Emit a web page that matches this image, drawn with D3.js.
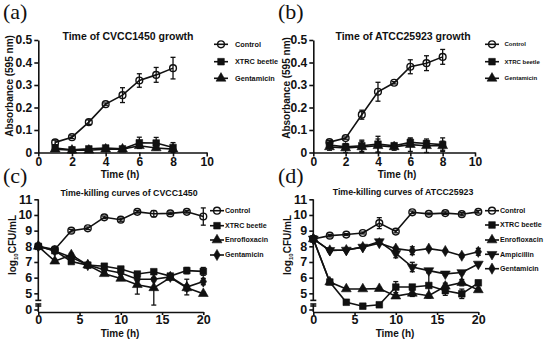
<!DOCTYPE html>
<html>
<head>
<meta charset="utf-8">
<script src="https://cdn.jsdelivr.net/npm/d3@7"></script>
<style>
  body { margin: 0; background: #fff; }
  text { font-family: "Liberation Sans", Arial, sans-serif; font-weight: bold; fill: #111; }
  .panel-tag { font-family: "Liberation Serif", "DejaVu Serif", serif; font-weight: normal; font-size: 22px; }
</style>
</head>
<body>
<svg id="fig" width="550" height="343"></svg>
<script>
// ---- data ----
const growthHours = [1, 2, 3, 4, 5, 6, 7, 8];
const killHours = [0, 2, 4, 6, 8, 10, 12, 14, 16, 18, 20];

// (a) CVCC1450 growth, absorbance 595 nm
const aControl   = [0.045, 0.068, 0.135, 0.215, 0.255, 0.32, 0.345, 0.375];
const aControlSd = [0.01, 0.006, 0.01, 0.005, 0.033, 0.03, 0.033, 0.048];
const aXtrc      = [0.02, 0.012, 0.016, 0.02, 0.016, 0.043, 0.042, 0.022];
const aXtrcSd    = [0.008, 0.005, 0.005, 0.006, 0.005, 0.025, 0.025, 0.022];
const aGenta     = [0.015, 0.01, 0.01, 0.015, 0.015, 0.03, 0.02, 0.015];
const aGentaSd   = [0.005, 0.004, 0.004, 0.005, 0.005, 0.01, 0.008, 0.01];

// (b) ATCC25923 growth
const bControl   = [0.046, 0.064, 0.168, 0.27, 0.31, 0.381, 0.397, 0.425];
const bControlSd = [0.008, 0.005, 0.02, 0.042, 0.005, 0.031, 0.033, 0.033];
const bXtrc      = [0.033, 0.025, 0.03, 0.037, 0.03, 0.045, 0.04, 0.035];
const bXtrcSd    = [0.012, 0.01, 0.025, 0.035, 0.01, 0.015, 0.012, 0.03];
const bGenta     = [0.025, 0.02, 0.025, 0.03, 0.025, 0.035, 0.03, 0.03];
const bGentaSd   = [0.015, 0.02, 0.025, 0.03, 0.015, 0.03, 0.03, 0.02];

// (c) time-killing CVCC1450, log10 CFU/mL
const cControl   = [8.0, 7.8, 9.0, 9.15, 9.85, 9.7, 10.2, 10.08, 10.1, 10.2, 9.9];
const cControlSd = [0.05, 0.08, 0.08, 0.08, 0.08, 0.1, 0.08, 0.2, 0.08, 0.08, 0.55];
const cXtrc      = [8.0, 7.72, 7.03, 6.8, 6.73, 6.55, 6.23, 6.38, 6.1, 6.45, 6.4];
const cXtrcSd    = [0.05, 0.08, 0.1, 0.08, 0.08, 0.1, 0.1, 0.08, 0.08, 0.2, 0.25];
const cEnro      = [8.0, 7.05, 7.45, 6.8, 6.25, 5.95, 5.55, 5.35, 6.0, 5.35, 4.98];
const cEnroSd    = [0.05, 0.12, 0.1, 0.08, 0.1, 0.1, 0.6, 1.1, 0.08, 0.2, 0.08];
const cGenta     = [8.0, 7.7, 7.3, 6.8, 6.5, 6.3, 5.9, 5.9, 6.05, 5.4, 5.75];
const cGentaSd   = [0.05, 0.08, 0.08, 0.08, 0.1, 0.1, 0.1, 0.1, 0.08, 0.5, 0.2];

// (d) time-killing ATCC25923
const dControl   = [8.47, 8.68, 8.75, 8.85, 9.48, 8.94, 10.17, 10.07, 10.12, 10.05, 10.2];
const dControlSd = [0.05, 0.08, 0.06, 0.06, 0.35, 0.08, 0.08, 0.06, 0.08, 0.1, 0.08];
const dXtrc      = [8.47, 5.72, 4.43, 4.18, 4.27, 5.4, 5.4, 5.5, 5.17, 4.97, 5.67];
const dXtrcSd    = [0.05, 0.08, 0.08, 0.06, 0.08, 0.35, 0.12, 0.8, 0.3, 0.3, 0.15];
const dEnro      = [8.47, 5.72, 5.28, 5.28, 5.3, 4.82, 5.0, 4.85, 5.45, 5.68, 5.22];
const dEnroSd    = [0.05, 0.08, 0.08, 0.06, 0.06, 0.1, 0.2, 0.1, 0.2, 0.2, 0.1];
const dAmpi      = [8.47, 7.74, 7.76, 7.95, 8.3, 7.55, 6.68, 6.45, 6.24, 6.33, 6.87];
const dAmpiSd    = [0.05, 0.08, 0.08, 0.08, 0.1, 0.28, 0.3, 0.12, 0.1, 0.1, 0.1];
const dGenta     = [8.47, 7.74, 7.76, 7.95, 8.2, 7.85, 7.72, 7.85, 7.7, 7.4, 7.65];
const dGentaSd   = [0.05, 0.08, 0.08, 0.08, 0.08, 0.1, 0.25, 0.08, 0.08, 0.1, 0.22];

const growthYTicks = [0, 0.1, 0.2, 0.3, 0.4, 0.5];
const growthXTicks = [0, 2, 4, 6, 8, 10];
const killYTicks = [0, 5, 6, 7, 8, 9, 10, 11];
const killXTicks = [0, 5, 10, 15, 20];

// ---- drawing ----
const svg = d3.select("#fig");

const symbolTypes = {
  circle: d3.symbolCircle,
  square: d3.symbolSquare,
  up: d3.symbolTriangle,
  down: d3.symbolTriangle,
  diamond: d3.symbolDiamond
};
const symbolSizes = { circle: 36, square: 44, up: 42, down: 42, diamond: 36 };

function marker(sel, shape) {
  sel.append("path")
    .attr("d", d3.symbol().type(symbolTypes[shape]).size(symbolSizes[shape]))
    .attr("transform", d => `translate(${d[0]},${d[1]})` + (shape == "down" ? " rotate(180)" : ""))
    .attr("fill", shape == "circle" ? "none" : "#111")
    .attr("stroke", "#111")
    .attr("stroke-width", shape == "circle" ? 1.4 : 0.6);
}

function drawPanel(p) {
  const g = svg.append("g");
  const x = p.x, y = p.y;

  // tag and title
  svg.append("text").attr("class", "panel-tag").attr("x", p.tag[0]).attr("y", p.tag[1]).text(p.tag[2]);
  g.append("text").attr("x", p.title[0]).attr("y", p.title[1]).attr("text-anchor", "middle")
    .attr("font-size", p.titleSize).text(p.title[2]);

  // x axis
  const xa = g.append("g").attr("transform", `translate(0,${p.xAxisY})`)
    .call(d3.axisBottom(x).tickValues(p.xTicks).tickSize(p.xTick[0]).tickPadding(p.xTick[1]).tickSizeOuter(0));
  xa.selectAll("text").attr("font-size", p.tickSize).attr("font-family", null);

  // y axis
  const ya = g.append("g").attr("transform", `translate(${x.range()[0]},0)`)
    .call(d3.axisLeft(y).tickValues(p.yTicks).tickSize(4).tickPadding(2).tickSizeOuter(0)
      .tickFormat(d => d == 0 ? "0" : String(d)));
  ya.selectAll("text").attr("font-size", p.tickSize).attr("font-family", null);
  g.selectAll(".domain, .tick line").attr("stroke", "#111").attr("stroke-width", 1.6);

  if (p.yBreak) {
    // broken axis: upper segment and a short lower stub
    ya.select(".domain").remove();
    const x0 = x.range()[0];
    const upTop = y(11), upBot = y(p.yBreak), loTop = p.lowStub, loBot = p.xAxisY;
    g.append("line").attr("x1", x0).attr("x2", x0).attr("y1", upTop).attr("y2", upBot);
    g.append("line").attr("x1", x0).attr("x2", x0).attr("y1", loTop).attr("y2", loBot);
    g.append("line").attr("x1", x0 - 3).attr("x2", x0 + 3).attr("y1", upBot).attr("y2", upBot);
    g.append("line").attr("x1", x0 - 3).attr("x2", x0 + 3).attr("y1", loTop).attr("y2", loTop);
    g.append("line").attr("x1", x0 - 3).attr("x2", x0 + 3).attr("y1", loTop + 2).attr("y2", loTop + 2);
    g.selectAll("line").attr("stroke", "#111").attr("stroke-width", 1.6);
  }

  // axis labels
  g.append("text").attr("x", p.xLabel[0]).attr("y", p.xLabel[1]).attr("text-anchor", "middle")
    .attr("font-size", 10).text("Time (h)");
  const yl = g.append("text").attr("text-anchor", "middle").attr("font-size", p.yLabelSize)
    .attr("transform", `translate(${p.yLabel[0]},${p.yLabel[1]}) rotate(-90)`);
  if (p.yLabel[2] == "log") {
    yl.append("tspan").text("log");
    yl.append("tspan").attr("font-size", 6).attr("dy", 2).text("10");
    yl.append("tspan").attr("dy", -2).text("CFU/mL");
  } else {
    yl.text(p.yLabel[2]);
  }

  const line = d3.line().x(d => x(d[0])).y(d => y(d[1]));

  p.series.forEach(s => {
    const pts = p.hours.map((h, i) => [h, s.values[i], s.sd[i]]);
    g.append("path").datum(pts).attr("d", line)
      .attr("fill", "none").attr("stroke", "#111").attr("stroke-width", 1.6);

    // error bars
    const eb = g.append("g").attr("stroke", "#111").attr("stroke-width", 1.3);
    pts.forEach(d => {
      const cx = x(d[0]), y1 = y(d[1] - d[2]), y2 = y(d[1] + d[2]);
      eb.append("line").attr("x1", cx).attr("x2", cx).attr("y1", y1).attr("y2", y2);
      eb.append("line").attr("x1", cx - 2.5).attr("x2", cx + 2.5).attr("y1", y1).attr("y2", y1);
      eb.append("line").attr("x1", cx - 2.5).attr("x2", cx + 2.5).attr("y1", y2).attr("y2", y2);
    });

    g.append("g").selectAll("path").data(pts.map(d => [x(d[0]), y(d[1])]))
      .enter().call(sel => marker(sel, s.shape));
  });

  // legend
  p.series.forEach((s, i) => {
    const ly = p.legend.y[i];
    g.append("line").attr("x1", p.legend.mx - 7).attr("x2", p.legend.mx + 7)
      .attr("y1", ly).attr("y2", ly).attr("stroke", "#111").attr("stroke-width", 1.6);
    g.append("g").selectAll("path").data([[p.legend.mx, ly]]).enter().call(sel => marker(sel, s.shape));
    g.append("text").attr("x", p.legend.tx).attr("y", ly).attr("dy", "0.35em")
      .attr("font-size", p.legend.size).text(s.name);
  });
}

const growthY = d3.scaleLinear().domain([0, 0.5]).range([152.5, 40]);
// broken log axis: 0 sits just below the 4-5 break
const killY = d3.scaleLinear().domain([0, 4, 11]).range([309.5, 309, 199.3]);

drawPanel({
  x: d3.scaleLinear().domain([0, 10]).range([38.3, 206.7]), y: growthY,
  hours: growthHours, xTicks: growthXTicks, yTicks: growthYTicks, xAxisY: 152.5, xTick: [4, 1],
  tag: [3, 19, "(a)"], title: [128, 40, "Time of CVCC1450 growth"], titleSize: 10.5, tickSize: 12,
  xLabel: [120, 178], yLabel: [13, 86, "Absorbance (595 nm)"], yLabelSize: 10,
  legend: { mx: 221, tx: 235, y: [44.3, 61.7, 78.3], size: 7.3 },
  series: [
    { name: "Control", shape: "circle", values: aControl, sd: aControlSd },
    { name: "XTRC beetle", shape: "square", values: aXtrc, sd: aXtrcSd },
    { name: "Gentamicin", shape: "up", values: aGenta, sd: aGentaSd }
  ]
});

drawPanel({
  x: d3.scaleLinear().domain([0, 10]).range([313.3, 475]), y: growthY,
  hours: growthHours, xTicks: growthXTicks, yTicks: growthYTicks, xAxisY: 152.5, xTick: [4, 1],
  tag: [278, 19, "(b)"], title: [403, 40, "Time of ATCC25923 growth"], titleSize: 10.5, tickSize: 12,
  xLabel: [397, 178], yLabel: [290, 88, "Absorbance (595 nm)"], yLabelSize: 10,
  legend: { mx: 492, tx: 504.5, y: [44.3, 61.7, 78.3], size: 6 },
  series: [
    { name: "Control", shape: "circle", values: bControl, sd: bControlSd },
    { name: "XTRC beetle", shape: "square", values: bXtrc, sd: bXtrcSd },
    { name: "Gentamicin", shape: "up", values: bGenta, sd: bGentaSd }
  ]
});

drawPanel({
  x: d3.scaleLinear().domain([0, 20]).range([38.3, 203.3]), y: killY, yBreak: 4.55, lowStub: 304,
  hours: killHours, xTicks: killXTicks, yTicks: killYTicks, xAxisY: 312, xTick: [3, 0.5],
  tag: [3, 183, "(c)"], title: [129, 196, "Time-killing curves of CVCC1450"], titleSize: 8.8, tickSize: 12.5,
  xLabel: [120, 337], yLabel: [16, 245, "log"], yLabelSize: 10,
  legend: { mx: 217, tx: 225, y: [210.7, 225.7, 240, 255], size: 7.1 },
  series: [
    { name: "Control", shape: "circle", values: cControl, sd: cControlSd },
    { name: "XTRC beetle", shape: "square", values: cXtrc, sd: cXtrcSd },
    { name: "Enrofloxacin", shape: "up", values: cEnro, sd: cEnroSd },
    { name: "Gentamicin", shape: "diamond", values: cGenta, sd: cGentaSd }
  ]
});

drawPanel({
  x: d3.scaleLinear().domain([0, 20]).range([313.3, 478.3]), y: killY, yBreak: 4.55, lowStub: 304,
  hours: killHours, xTicks: killXTicks, yTicks: killYTicks, xAxisY: 312, xTick: [3, 0.5],
  tag: [278, 183, "(d)"], title: [403, 195, "Time-killing curves of ATCC25923"], titleSize: 8.8, tickSize: 12.5,
  xLabel: [395, 337], yLabel: [291, 245, "log"], yLabelSize: 10,
  legend: { mx: 492, tx: 500, y: [210.7, 225, 240, 254.3, 268.7], size: 7.1 },
  series: [
    { name: "Control", shape: "circle", values: dControl, sd: dControlSd },
    { name: "XTRC beetle", shape: "square", values: dXtrc, sd: dXtrcSd },
    { name: "Enrofloxacin", shape: "up", values: dEnro, sd: dEnroSd },
    { name: "Ampicillin", shape: "down", values: dAmpi, sd: dAmpiSd },
    { name: "Gentamicin", shape: "diamond", values: dGenta, sd: dGentaSd }
  ]
});
</script>
</body>
</html>
